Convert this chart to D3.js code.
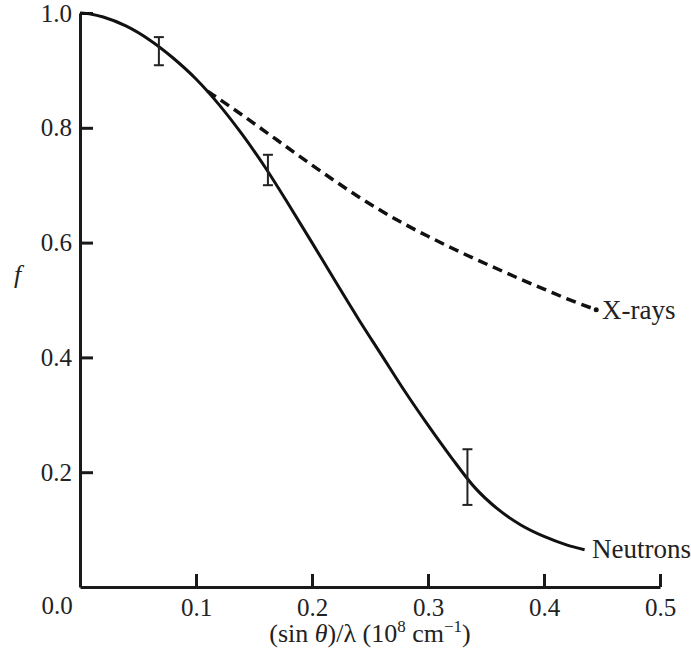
<!DOCTYPE html>
<html>
<head>
<meta charset="utf-8">
<script src="https://cdn.jsdelivr.net/npm/d3@7"></script>
<style>
  html, body { margin: 0; padding: 0; background: #fff; }
  svg { display: block; }
  text { font-family: "Liberation Serif", "Times New Roman", serif; fill: #222; }
</style>
</head>
<body>
<svg id="chart" width="691" height="658"></svg>
<script>
// sin(theta)/lambda sample points
const neutronX = [0, 0.01, 0.02, 0.04, 0.06, 0.08, 0.10, 0.12, 0.14, 0.16, 0.18, 0.20, 0.22, 0.24, 0.26, 0.28, 0.30, 0.32, 0.34, 0.36, 0.38, 0.40, 0.42, 0.435];
const neutronF = [1.0, 0.998, 0.993, 0.977, 0.953, 0.922, 0.885, 0.84, 0.788, 0.73, 0.666, 0.600, 0.533, 0.467, 0.404, 0.341, 0.282, 0.226, 0.174, 0.136, 0.108, 0.088, 0.073, 0.065];

const xrayX = [0.11, 0.12, 0.14, 0.16, 0.18, 0.20, 0.22, 0.24, 0.26, 0.28, 0.30, 0.32, 0.34, 0.36, 0.38, 0.40, 0.42, 0.445];
const xrayF = [0.864, 0.850, 0.822, 0.793, 0.764, 0.735, 0.707, 0.680, 0.655, 0.632, 0.611, 0.591, 0.572, 0.554, 0.536, 0.519, 0.502, 0.483];

// measured points with error bars
const errX = [0.068, 0.162, 0.334];
const errLow = [0.909, 0.700, 0.143];
const errHigh = [0.958, 0.753, 0.240];

const xTicks = [0.1, 0.2, 0.3, 0.4, 0.5];
const yTicks = [0.2, 0.4, 0.6, 0.8, 1.0];

const svg = d3.select("#chart");

const x = d3.scaleLinear().domain([0, 0.5]).range([80, 660]);
const y = d3.scaleLinear().domain([0, 1]).range([587, 13]);

// axes, ticks pointing inward
const xAxis = svg.append("g")
  .attr("transform", `translate(0,${y(0)})`)
  .call(d3.axisBottom(x).tickValues(xTicks).tickSize(-13).tickSizeOuter(0)
    .tickPadding(11).tickFormat(d3.format(".1f")));

const yAxis = svg.append("g")
  .attr("transform", `translate(${x(0)},0)`)
  .call(d3.axisLeft(y).tickValues(yTicks).tickSize(-13).tickSizeOuter(0)
    .tickPadding(8).tickFormat(d3.format(".1f")));

[xAxis, yAxis].forEach(g => {
  g.attr("font-family", "Liberation Serif").attr("font-size", 25);
  g.select(".domain").attr("stroke", "#1a1a1a").attr("stroke-width", 3);
  g.selectAll(".tick line").attr("stroke", "#1a1a1a").attr("stroke-width", 3);
  g.selectAll(".tick text").attr("fill", "#222");
});

svg.append("text")
  .attr("x", 57).attr("y", 614)
  .attr("text-anchor", "middle")
  .attr("font-size", 25)
  .text("0.0");

// axis titles
svg.append("text")
  .attr("x", 14).attr("y", 283)
  .attr("font-size", 26)
  .attr("font-style", "italic")
  .text("f");

const xt = svg.append("text")
  .attr("x", 370).attr("y", 642)
  .attr("text-anchor", "middle")
  .attr("font-size", 26);
xt.append("tspan").text("(sin ");
xt.append("tspan").attr("font-style", "italic").text("θ");
xt.append("tspan").text(")/λ (10");
xt.append("tspan").attr("font-size", 17).attr("dy", -10).text("8");
xt.append("tspan").attr("dy", 10).text(" cm");
xt.append("tspan").attr("font-size", 17).attr("dy", -10).text("−1");
xt.append("tspan").attr("dy", 10).text(")");

const line = d3.line()
  .x(d => x(d[0]))
  .y(d => y(d[1]))
  .curve(d3.curveMonotoneX);

svg.append("path")
  .datum(d3.zip(xrayX, xrayF))
  .attr("fill", "none")
  .attr("stroke", "#111")
  .attr("stroke-width", 3.5)
  .attr("stroke-dasharray", "10,6")
  .attr("d", line);

svg.append("circle")
  .attr("cx", x(xrayX[xrayX.length - 1]))
  .attr("cy", y(xrayF[xrayF.length - 1]))
  .attr("r", 2.5)
  .attr("fill", "#111");

svg.append("path")
  .datum(d3.zip(neutronX, neutronF))
  .attr("fill", "none")
  .attr("stroke", "#111")
  .attr("stroke-width", 3)
  .attr("d", line);

// error bars
const eb = svg.append("g").attr("stroke", "#222").attr("stroke-width", 2);
errX.forEach((v, i) => {
  const cx = x(v);
  eb.append("line").attr("x1", cx).attr("x2", cx).attr("y1", y(errHigh[i])).attr("y2", y(errLow[i]));
  eb.append("line").attr("x1", cx - 5).attr("x2", cx + 5).attr("y1", y(errHigh[i])).attr("y2", y(errHigh[i]));
  eb.append("line").attr("x1", cx - 5).attr("x2", cx + 5).attr("y1", y(errLow[i])).attr("y2", y(errLow[i]));
});

// curve labels
svg.append("text")
  .attr("x", 602).attr("y", 319)
  .attr("font-size", 27)
  .text("X-rays");

svg.append("text")
  .attr("x", 592).attr("y", 558)
  .attr("font-size", 27)
  .text("Neutrons");
</script>
</body>
</html>
